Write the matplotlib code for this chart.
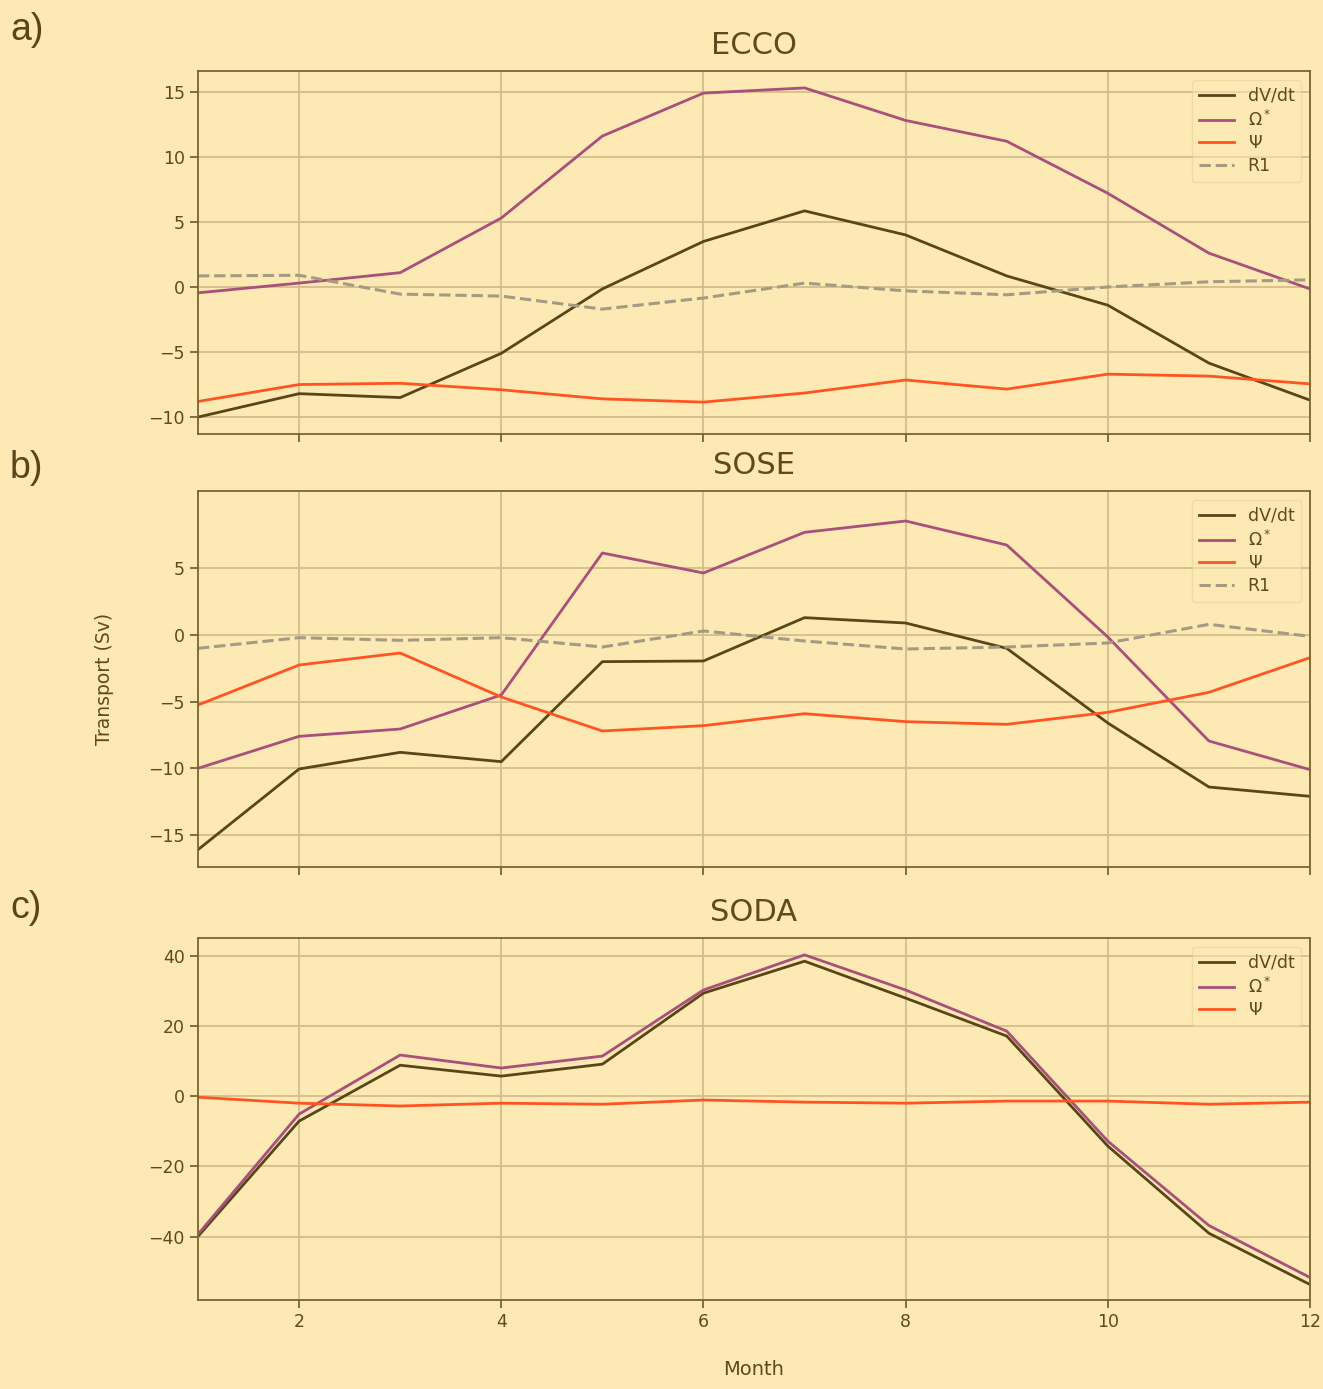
import matplotlib.pyplot as plt

months = list(range(1, 13))

# ECCO
ecco_dvdt = [-10.0, -8.2, -8.5, -5.1, -0.15, 3.5, 5.85, 4.0, 0.85, -1.4, -5.85, -8.7]
ecco_omega = [-0.45, 0.3, 1.1, 5.3, 11.6, 14.9, 15.3, 12.8, 11.2, 7.2, 2.6, -0.15]
ecco_psi = [-8.8, -7.5, -7.4, -7.9, -8.6, -8.85, -8.15, -7.15, -7.85, -6.7, -6.85, -7.45]
ecco_r1 = [0.85, 0.9, -0.55, -0.7, -1.7, -0.85, 0.3, -0.3, -0.6, 0.0, 0.4, 0.55]

# SOSE
sose_dvdt = [-16.1, -10.05, -8.8, -9.5, -2.0, -1.95, 1.3, 0.9, -1.0, -6.6, -11.4, -12.1]
sose_omega = [-10.0, -7.6, -7.05, -4.5, 6.15, 4.65, 7.7, 8.55, 6.75, -0.15, -7.95, -10.1]
sose_psi = [-5.25, -2.25, -1.35, -4.65, -7.2, -6.8, -5.9, -6.5, -6.7, -5.8, -4.3, -1.7]
sose_r1 = [-1.0, -0.2, -0.4, -0.2, -0.9, 0.3, -0.45, -1.05, -0.9, -0.6, 0.8, -0.1]

# SODA
soda_dvdt = [-39.9, -7.1, 8.8, 5.7, 9.1, 29.3, 38.4, 27.9, 17.1, -14.2, -39.0, -53.6]
soda_omega = [-39.3, -5.1, 11.7, 8.0, 11.4, 30.2, 40.2, 30.2, 18.5, -12.8, -36.8, -51.6]
soda_psi = [-0.3, -2.0, -2.8, -2.0, -2.3, -1.1, -1.7, -2.0, -1.4, -1.4, -2.3, -1.7]

bg = '#fde9b4'
txt = '#5e4a1c'
c_dvdt = '#5a4518'
c_omega = '#a8507a'
c_psi = '#ff5422'
c_r1 = '#a39c82'

plt.rcParams['font.family'] = 'DejaVu Sans'
fig = plt.figure(figsize=(13.23, 13.89), dpi=100, facecolor=bg)

W, H = 1323, 1389
L, R = 198, 1310
boxes = [(71, 434), (491, 867), (938, 1300)]
axes = []
for top, bot in boxes:
    ax = fig.add_axes([L / W, 1 - bot / H, (R - L) / W, (bot - top) / H])
    axes.append(ax)

panels = [
    ("ECCO", ecco_dvdt, ecco_omega, ecco_psi, ecco_r1, (-11.3, 16.6), [-10, -5, 0, 5, 10, 15]),
    ("SOSE", sose_dvdt, sose_omega, sose_psi, sose_r1, (-17.4, 10.8), [-15, -10, -5, 0, 5]),
    ("SODA", soda_dvdt, soda_omega, soda_psi, None, (-58, 45), [-40, -20, 0, 20, 40]),
]

for ax, (title, dvdt, omega, psi, r1, ylim, yticks) in zip(axes, panels):
    ax.set_facecolor(bg)
    ax.plot(months, dvdt, color=c_dvdt, lw=2.0, label='dV/dt')
    ax.plot(months, omega, color=c_omega, lw=2.0, label=r'$\Omega^*$')
    ax.plot(months, psi, color=c_psi, lw=2.0, label=r'$\Psi$')
    if r1 is not None:
        ax.plot(months, r1, color=c_r1, lw=2.2, ls='--', label='R1')
    ax.set_xlim(1, 12)
    ax.set_ylim(*ylim)
    ax.set_yticks(yticks)
    ax.set_xticks([2, 4, 6, 8, 10, 12])
    ax.grid(True, color='#d2bd8c', lw=1.3)
    ax.set_axisbelow(True)
    for s in ax.spines.values():
        s.set_color('#7a6530')
        s.set_linewidth(1.3)
    ax.tick_params(colors='#7a6530', labelcolor=txt, labelsize=12.5, length=6, width=1.3)
    ax.set_title(title, fontsize=22, color=txt, pad=12)
    leg = ax.legend(loc='upper right', fontsize=12.5, framealpha=0.5, labelspacing=0.28,
                    facecolor=bg, edgecolor='#e0cf9a', labelcolor=txt)

for ax in axes[:2]:
    ax.tick_params(labelbottom=False)

axes[1].set_ylabel('Transport (Sv)', fontsize=13.5, color=txt, labelpad=25)
axes[2].set_xlabel('Month', fontsize=14, color=txt, labelpad=21)

for lab, y in zip(['a)', 'b)', 'c)'], [30, 468, 908]):
    fig.text(10 / W, 1 - y / H, lab, fontsize=27, color='#5a4518',
             family='Liberation Sans', va='center', ha='left')

fig.savefig('out.png', dpi=100, facecolor=bg)
